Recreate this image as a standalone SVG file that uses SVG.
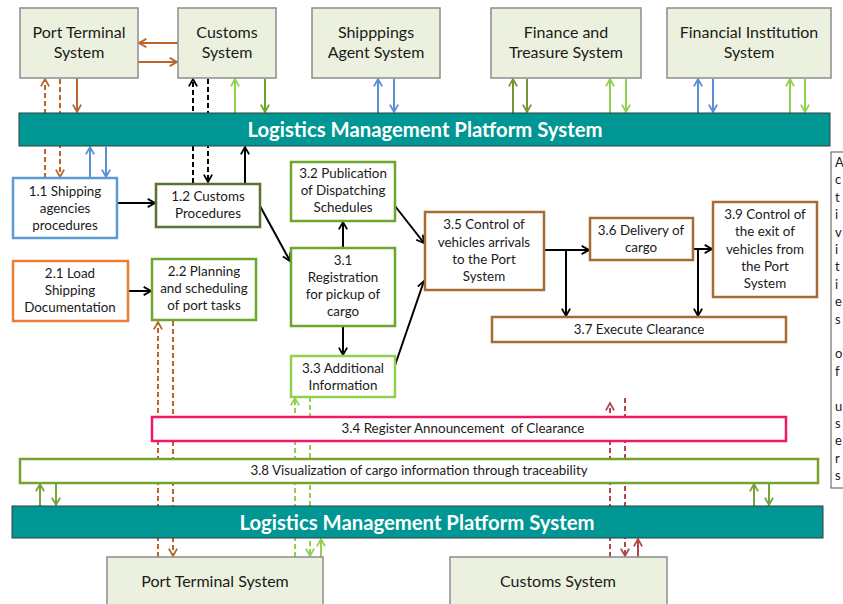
<svg xmlns="http://www.w3.org/2000/svg" width="843" height="604" viewBox="0 0 843 604">
<style>
.sys{fill:#EBF1DE;stroke:#8C8C8C;stroke-width:1.5}
.bar{fill:#009693;stroke:#2F3F3F;stroke-width:1}
.bt{font-family:Lato,"Liberation Sans",sans-serif;font-weight:bold;font-size:20.3px;fill:#fff;text-anchor:middle}
.st{font-family:Lato,"Liberation Sans",sans-serif;font-size:16px;fill:#1a1a1a;text-anchor:middle}
.pt{font-family:Lato,"Liberation Sans",sans-serif;font-size:13.4px;fill:#1a1a1a;text-anchor:middle}
.lt{font-family:Lato,"Liberation Sans",sans-serif;font-size:13px;fill:#1a1a1a}
.p{fill:#fff;stroke-width:2.5}
.c{fill:none;stroke-width:2}
.d{stroke-dasharray:5,3}
.br{stroke:#B9652B}.bl{stroke:#5A8FD6}.bk{stroke:#000}.lg{stroke:#92D050}.gr{stroke:#66A524}.ol{stroke:#77933C}.og{stroke:#77A13A}.dr{stroke:#B0474A}
</style>
<defs>
<marker id="mbr" viewBox="0 0 12 12" refX="10" refY="6" markerWidth="11" markerHeight="11" markerUnits="userSpaceOnUse" orient="auto"><path d="M2,1.5 L10,6 L2,10.5" fill="none" stroke="#B9652B" stroke-width="2"/></marker>
<marker id="mbl" viewBox="0 0 12 12" refX="10" refY="6" markerWidth="11" markerHeight="11" markerUnits="userSpaceOnUse" orient="auto"><path d="M2,1.5 L10,6 L2,10.5" fill="none" stroke="#5A8FD6" stroke-width="2"/></marker>
<marker id="mbk" viewBox="0 0 12 12" refX="10" refY="6" markerWidth="11" markerHeight="11" markerUnits="userSpaceOnUse" orient="auto"><path d="M2,1.5 L10,6 L2,10.5" fill="none" stroke="#000" stroke-width="2"/></marker>
<marker id="mlg" viewBox="0 0 12 12" refX="10" refY="6" markerWidth="11" markerHeight="11" markerUnits="userSpaceOnUse" orient="auto"><path d="M2,1.5 L10,6 L2,10.5" fill="none" stroke="#92D050" stroke-width="2"/></marker>
<marker id="mgr" viewBox="0 0 12 12" refX="10" refY="6" markerWidth="11" markerHeight="11" markerUnits="userSpaceOnUse" orient="auto"><path d="M2,1.5 L10,6 L2,10.5" fill="none" stroke="#66A524" stroke-width="2"/></marker>
<marker id="mol" viewBox="0 0 12 12" refX="10" refY="6" markerWidth="11" markerHeight="11" markerUnits="userSpaceOnUse" orient="auto"><path d="M2,1.5 L10,6 L2,10.5" fill="none" stroke="#77933C" stroke-width="2"/></marker>
<marker id="mog" viewBox="0 0 12 12" refX="10" refY="6" markerWidth="11" markerHeight="11" markerUnits="userSpaceOnUse" orient="auto"><path d="M2,1.5 L10,6 L2,10.5" fill="none" stroke="#77A13A" stroke-width="2"/></marker>
<marker id="mdr" viewBox="0 0 12 12" refX="10" refY="6" markerWidth="11" markerHeight="11" markerUnits="userSpaceOnUse" orient="auto"><path d="M2,1.5 L10,6 L2,10.5" fill="none" stroke="#B0474A" stroke-width="2"/></marker>
</defs>
<rect width="843" height="604" fill="#fff"/>
<g id="connectors">
<path class="c br" d="M178,43 H139" marker-end="url(#mbr)"/>
<path class="c br" d="M138,62 H177" marker-end="url(#mbr)"/>
<path class="c br d" d="M45,178 V79" marker-end="url(#mbr)"/>
<path class="c br d" d="M60,79 V177" marker-end="url(#mbr)"/>
<path class="c br" d="M77,78 V112" marker-end="url(#mbr)"/>
<path class="c br d" d="M158,557 V322" marker-end="url(#mbr)"/>
<path class="c br d" d="M173,321 V556" marker-end="url(#mbr)"/>
<path class="c bl" d="M90,178 V147" marker-end="url(#mbl)"/>
<path class="c bl" d="M106,147 V177" marker-end="url(#mbl)"/>
<path class="c bl" d="M378,113 V79" marker-end="url(#mbl)"/>
<path class="c bl" d="M394,79 V112" marker-end="url(#mbl)"/>
<path class="c bl" d="M698,113 V79" marker-end="url(#mbl)"/>
<path class="c bl" d="M713,79 V112" marker-end="url(#mbl)"/>
<path class="c bk d" d="M193,183 V79" marker-end="url(#mbk)"/>
<path class="c bk d" d="M208,79 V182" marker-end="url(#mbk)"/>
<path class="c bk" d="M245,184 V147" marker-end="url(#mbk)"/>
<path class="c bk" d="M117,203 H155" marker-end="url(#mbk)"/>
<path class="c bk" d="M128,291 H151" marker-end="url(#mbk)"/>
<path class="c bk" d="M260,206 L290,261" marker-end="url(#mbk)"/>
<path class="c bk" d="M343,248 V222" marker-end="url(#mbk)"/>
<path class="c bk" d="M343,326 V355" marker-end="url(#mbk)"/>
<path class="c bk" d="M395,206 L424,243" marker-end="url(#mbk)"/>
<path class="c bk" d="M393,371 L424,281" marker-end="url(#mbk)"/>
<path class="c bk" d="M544,250 H589" marker-end="url(#mbk)"/>
<path class="c bk" d="M566,250 V316" marker-end="url(#mbk)"/>
<path class="c bk" d="M693,249 H712" marker-end="url(#mbk)"/>
<path class="c bk" d="M698,249 V316" marker-end="url(#mbk)"/>
<path class="c lg" d="M235,113 V79" marker-end="url(#mlg)"/>
<path class="c gr" d="M265,79 V112" marker-end="url(#mgr)"/>
<path class="c ol" d="M513,113 V79" marker-end="url(#mol)"/>
<path class="c ol" d="M527,79 V112" marker-end="url(#mol)"/>
<path class="c lg" d="M610,113 V79" marker-end="url(#mlg)"/>
<path class="c lg" d="M626,79 V112" marker-end="url(#mlg)"/>
<path class="c lg" d="M790,113 V79" marker-end="url(#mlg)"/>
<path class="c lg" d="M805,79 V112" marker-end="url(#mlg)"/>
<path class="c lg d" d="M295,557 V398" marker-end="url(#mlg)"/>
<path class="c lg d" d="M310,397 V556" marker-end="url(#mlg)"/>
<path class="c lg" d="M321,557 V539" marker-end="url(#mlg)"/>
<path class="c og" d="M40,506 V484" marker-end="url(#mog)"/>
<path class="c og" d="M56,483 V505" marker-end="url(#mog)"/>
<path class="c og" d="M754,506 V484" marker-end="url(#mog)"/>
<path class="c og" d="M769,483 V505" marker-end="url(#mog)"/>
<path class="c dr d" d="M610,557 V403" marker-end="url(#mdr)"/>
<path class="c dr d" d="M625,398 V556" marker-end="url(#mdr)"/>
<path class="c dr" d="M638,557 V539" marker-end="url(#mdr)"/>
</g>
<g id="port-terminal-top"><rect class="sys" x="20" y="8" width="118" height="70"/><text class="st" x="79" y="38">Port Terminal</text><text class="st" x="79" y="58">System</text></g>
<g id="customs-top"><rect class="sys" x="178" y="8" width="98" height="70"/><text class="st" x="227" y="38">Customs</text><text class="st" x="227" y="58">System</text></g>
<g id="shipping-agent"><rect class="sys" x="312" y="8" width="128" height="70"/><text class="st" x="376" y="38">Shipppings</text><text class="st" x="376" y="58">Agent System</text></g>
<g id="finance-treasure"><rect class="sys" x="491" y="8" width="150" height="70"/><text class="st" x="566" y="38">Finance and</text><text class="st" x="566" y="58">Treasure System</text></g>
<g id="financial-institution"><rect class="sys" x="667" y="8" width="164" height="70"/><text class="st" x="749" y="38">Financial Institution</text><text class="st" x="749" y="58">System</text></g>
<g id="platform-top"><rect class="bar" x="19" y="113" width="811" height="33"/><text class="bt" x="425" y="137">Logistics Management Platform System</text></g>
<g id="p1-1"><rect class="p" x="13" y="178" width="104" height="60" stroke="#5B9BD5"/><text class="pt" x="65" y="196">1.1 Shipping</text><text class="pt" x="65" y="213">agencies</text><text class="pt" x="65" y="230">procedures</text></g>
<g id="p1-2"><rect class="p" x="156" y="184" width="104" height="43" stroke="#5B7236"/><text class="pt" x="208" y="201">1.2 Customs</text><text class="pt" x="208" y="218">Procedures</text></g>
<g id="p2-1"><rect class="p" x="13" y="261" width="115" height="60" stroke="#ED7D31"/><text class="pt" x="70" y="278">2.1 Load</text><text class="pt" x="70" y="295">Shipping</text><text class="pt" x="70" y="312">Documentation</text></g>
<g id="p2-2"><rect class="p" x="152" y="259" width="104" height="61" stroke="#6EA52C"/><text class="pt" x="204" y="276">2.2 Planning</text><text class="pt" x="204" y="293">and scheduling</text><text class="pt" x="204" y="310">of port tasks</text></g>
<g id="p3-2"><rect class="p" x="291" y="162" width="104" height="59" stroke="#6EA52C"/><text class="pt" x="343" y="178">3.2 Publication</text><text class="pt" x="343" y="195">of Dispatching</text><text class="pt" x="343" y="212">Schedules</text></g>
<g id="p3-1"><rect class="p" x="291" y="248" width="104" height="78" stroke="#6EA52C"/><text class="pt" x="343" y="265">3.1</text><text class="pt" x="343" y="282">Registration</text><text class="pt" x="343" y="299">for pickup of</text><text class="pt" x="343" y="316">cargo</text></g>
<g id="p3-3"><rect class="p" x="291" y="356" width="104" height="41" stroke="#92D050"/><text class="pt" x="343" y="373">3.3 Additional</text><text class="pt" x="343" y="390">Information</text></g>
<g id="p3-5"><rect class="p" x="425" y="212" width="119" height="78" stroke="#A66C33"/><text class="pt" x="484" y="229">3.5 Control of</text><text class="pt" x="484" y="247">vehicles arrivals</text><text class="pt" x="484" y="264">to the Port</text><text class="pt" x="484" y="281">System</text></g>
<g id="p3-6"><rect class="p" x="590" y="218" width="103" height="42" stroke="#A66C33"/><text class="pt" x="641" y="235">3.6 Delivery of</text><text class="pt" x="641" y="252">cargo</text></g>
<g id="p3-9"><rect class="p" x="713" y="202" width="104" height="95" stroke="#A66C33"/><text class="pt" x="765" y="219">3.9 Control of</text><text class="pt" x="765" y="236">the exit of</text><text class="pt" x="765" y="254">vehicles from</text><text class="pt" x="765" y="271">the Port</text><text class="pt" x="765" y="288">System</text></g>
<g id="p3-7"><rect class="p" x="492" y="317" width="294" height="25" stroke="#A66C33"/><text class="pt" x="639" y="334">3.7 Execute Clearance</text></g>
<g id="p3-4"><rect class="p" x="152" y="417" width="634" height="24" stroke="#F0186A"/><text class="pt" x="463" y="433" xml:space="preserve">3.4 Register Announcement  of Clearance</text></g>
<g id="p3-8"><rect class="p" x="20" y="459" width="798" height="24" stroke="#78A22F"/><text class="pt" x="419" y="475">3.8 Visualization of cargo information through traceability</text></g>
<g id="platform-bottom"><rect class="bar" x="12" y="506" width="811" height="32"/><text class="bt" x="417" y="530">Logistics Management Platform System</text></g>
<g id="port-terminal-bottom"><rect class="sys" x="107" y="557" width="216" height="55"/><text class="st" x="215" y="587">Port Terminal System</text></g>
<g id="customs-bottom"><rect class="sys" x="450" y="557" width="217" height="55"/><text class="st" x="558" y="587">Customs System</text></g>
<g id="side-note"><rect x="831" y="152" width="20" height="336" fill="#fff" stroke="#555" stroke-width="1"/>
<text class="lt" x="835" y="167">A</text><text class="lt" x="835" y="184">c</text><text class="lt" x="835" y="202">t</text><text class="lt" x="835" y="219">i</text><text class="lt" x="835" y="237">v</text><text class="lt" x="835" y="254">i</text><text class="lt" x="835" y="271">t</text><text class="lt" x="835" y="289">i</text><text class="lt" x="835" y="306">e</text><text class="lt" x="835" y="324">s</text><text class="lt" x="835" y="358">o</text><text class="lt" x="835" y="376">f</text><text class="lt" x="835" y="411">u</text><text class="lt" x="835" y="428">s</text><text class="lt" x="835" y="445">e</text><text class="lt" x="835" y="463">r</text><text class="lt" x="835" y="480">s</text>
</g>
</svg>
